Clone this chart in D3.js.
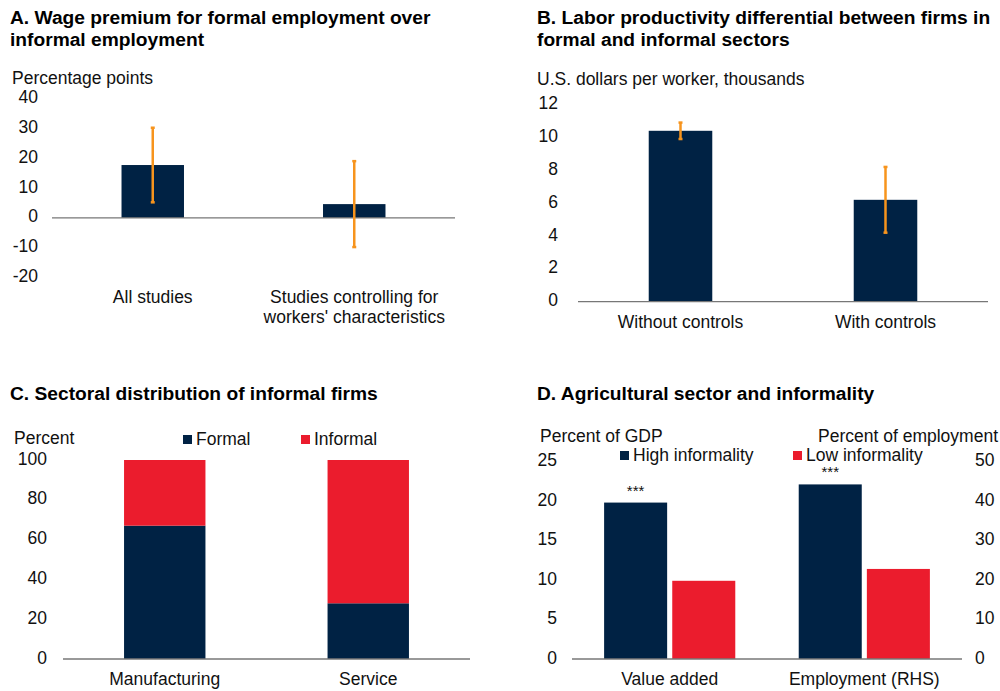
<!DOCTYPE html>
<html>
<head>
<meta charset="utf-8">
<script src="https://cdn.jsdelivr.net/npm/d3@7"></script>
<style>
  body { margin: 0; background: #fff; }
  svg { display: block; font-family: "Liberation Sans", Arial, sans-serif; }
</style>
</head>
<body>
<script>
const wdth = 1000;
const hght = 691;
const navy = "#002244";
const red = "#EB1C2D";
const orange = "#F7941D";
const fs = 17.5;

// panel A
const wageCats = ["All studies", "Studies controlling for|workers' characteristics"];
const wageVals = [17.7, 4.6];
const wageLow = [5.2, -9.8];
const wageHigh = [30.2, 19];
const wageTicks = [40, 30, 20, 10, 0, -10, -20];

// panel B
const prodCats = ["Without controls", "With controls"];
const prodVals = [10.4, 6.2];
const prodLow = [9.9, 4.2];
const prodHigh = [10.9, 8.2];
const prodTicks = [0, 2, 4, 6, 8, 10, 12];

// panel C
const sectorCats = ["Manufacturing", "Service"];
const sectorFormal = [67, 28];
const sectorInformal = [33, 72];
const sectorTicks = [0, 20, 40, 60, 80, 100];

// panel D
const agriCats = ["Value added", "Employment (RHS)"];
const agriHigh = [19.8, 44.2];
const agriLow = [9.9, 22.8];
const agriStars = ["***", "***"];
const agriLeftTicks = [0, 5, 10, 15, 20, 25];
const agriRightTicks = [0, 10, 20, 30, 40, 50];

const svg = d3.select("body").append("svg")
  .attr("width", wdth)
  .attr("height", hght);

function title(lines, x, y) {
  const t = svg.append("text")
    .attr("x", x).attr("y", y)
    .attr("font-size", 19.2).attr("font-weight", "bold").attr("fill", "#000");
  lines.forEach((l, i) => {
    t.append("tspan").attr("x", x).attr("dy", i === 0 ? 0 : 22).text(l);
  });
}

function label(txt, x, y, anchor) {
  return svg.append("text")
    .attr("x", x).attr("y", y)
    .attr("font-size", fs)
    .attr("text-anchor", anchor || "start")
    .attr("dominant-baseline", "middle")
    .attr("fill", "#111")
    .text(txt);
}

function yLabels(scale, ticks, x, anchor) {
  svg.append("g").selectAll("text")
    .data(ticks).enter().append("text")
    .attr("x", x)
    .attr("y", d => scale(d))
    .attr("font-size", fs)
    .attr("text-anchor", anchor || "end")
    .attr("dominant-baseline", "middle")
    .attr("fill", "#111")
    .text(d => d);
}

function baseLine(x1, x2, y) {
  svg.append("line")
    .attr("x1", x1).attr("x2", x2)
    .attr("y1", y).attr("y2", y)
    .attr("stroke", "#777").attr("stroke-width", 1.3);
}

function errBars(xs, lows, highs, y) {
  const g = svg.append("g");
  xs.forEach((x, i) => {
    g.append("line").attr("x1", x).attr("x2", x)
      .attr("y1", y(lows[i])).attr("y2", y(highs[i]))
      .attr("stroke", orange).attr("stroke-width", 2.5);
    [lows[i], highs[i]].forEach(v => {
      g.append("line").attr("x1", x - 2).attr("x2", x + 2)
        .attr("y1", y(v)).attr("y2", y(v))
        .attr("stroke", orange).attr("stroke-width", 2.5);
    });
  });
}

function catLabels(scale, cats, y) {
  cats.forEach(c => {
    const parts = c.split("|");
    parts.forEach((p, j) => {
      label(p, scale(c) + scale.bandwidth() / 2, y + j * 20, "middle");
    });
  });
}

// ---------- A ----------
title(["A. Wage premium for formal employment over", "informal employment"], 10, 24);
label("Percentage points", 12, 79);
const xA = d3.scaleBand().domain(wageCats).range([52, 455]).paddingInner(0.69).paddingOuter(0.345);
const yA = d3.scaleLinear().domain([-20, 40]).range([277.5, 98.5]);
yLabels(yA, wageTicks, 38);
svg.append("g").selectAll("rect").data(wageCats).enter().append("rect")
  .attr("x", d => xA(d))
  .attr("width", xA.bandwidth())
  .attr("y", (d, i) => Math.min(yA(wageVals[i]), yA(0)))
  .attr("height", (d, i) => Math.abs(yA(0) - yA(wageVals[i])))
  .attr("fill", navy);
baseLine(52, 455, yA(0));
errBars(wageCats.map(c => xA(c) + xA.bandwidth() / 2), wageLow, wageHigh, yA);
catLabels(xA, wageCats, 298);

// ---------- B ----------
title(["B. Labor productivity differential between firms in", "formal and informal sectors"], 537, 24);
label("U.S. dollars per worker, thousands", 537, 80);
const xB = d3.scaleBand().domain(prodCats).range([578, 988]).paddingInner(0.69).paddingOuter(0.345);
const yB = d3.scaleLinear().domain([0, 12]).range([301.7, 104.5]);
yLabels(yB, prodTicks, 558);
svg.append("g").selectAll("rect").data(prodCats).enter().append("rect")
  .attr("x", d => xB(d))
  .attr("width", xB.bandwidth())
  .attr("y", (d, i) => yB(prodVals[i]))
  .attr("height", (d, i) => yB(0) - yB(prodVals[i]))
  .attr("fill", navy);
baseLine(578, 988, yB(0));
errBars(prodCats.map(c => xB(c) + xB.bandwidth() / 2), prodLow, prodHigh, yB);
catLabels(xB, prodCats, 323);

// ---------- C ----------
title(["C. Sectoral distribution of informal firms"], 10, 400);
label("Percent", 14, 439);
const xC = d3.scaleBand().domain(sectorCats).range([63, 470]).paddingInner(0.6).paddingOuter(0.3);
const yC = d3.scaleLinear().domain([0, 100]).range([659, 460]);
yLabels(yC, sectorTicks, 47);
const stackRows = sectorCats.map((c, i) => ({ cat: c, Formal: sectorFormal[i], Informal: sectorInformal[i] }));
const stacked = d3.stack().keys(["Formal", "Informal"])(stackRows);
const colC = d3.scaleOrdinal().domain(["Formal", "Informal"]).range([navy, red]);
svg.append("g").selectAll("g").data(stacked).enter().append("g")
  .attr("fill", d => colC(d.key))
  .selectAll("rect").data(d => d).enter().append("rect")
  .attr("x", d => xC(d.data.cat))
  .attr("width", xC.bandwidth())
  .attr("y", d => yC(d[1]))
  .attr("height", d => yC(d[0]) - yC(d[1]));
baseLine(63, 470, yC(0));
catLabels(xC, sectorCats, 680);
[["Formal", 183], ["Informal", 301]].forEach(([k, x]) => {
  svg.append("rect").attr("x", x).attr("y", 435).attr("width", 9).attr("height", 9).attr("fill", colC(k));
  label(k, x + 13, 440);
});

// ---------- D ----------
title(["D. Agricultural sector and informality"], 537, 400);
label("Percent of GDP", 540, 437);
label("Percent of employment", 998, 437, "end");
const x0D = d3.scaleBand().domain(agriCats).range([572, 962]).paddingInner(0.326).paddingOuter(0.165);
const x1D = d3.scaleBand().domain(["High", "Low"]).range([0, x0D.bandwidth()]).paddingInner(0.075);
const yDL = d3.scaleLinear().domain([0, 25]).range([659, 461.5]);
const yDR = d3.scaleLinear().domain([0, 50]).range([659, 461.5]);
yLabels(yDL, agriLeftTicks, 557);
yLabels(yDR, agriRightTicks, 975, "start");
const scaleFor = i => (i === 0 ? yDL : yDR);
agriCats.forEach((c, i) => {
  const y = scaleFor(i);
  svg.append("rect")
    .attr("x", x0D(c) + x1D("High")).attr("width", x1D.bandwidth())
    .attr("y", y(agriHigh[i])).attr("height", y(0) - y(agriHigh[i]))
    .attr("fill", navy);
  svg.append("rect")
    .attr("x", x0D(c) + x1D("Low")).attr("width", x1D.bandwidth())
    .attr("y", y(agriLow[i])).attr("height", y(0) - y(agriLow[i]))
    .attr("fill", red);
  svg.append("text")
    .attr("x", x0D(c) + x1D("High") + x1D.bandwidth() / 2)
    .attr("y", y(agriHigh[i]) - 7)
    .attr("text-anchor", "middle")
    .attr("font-size", 15)
    .attr("fill", "#111")
    .text(agriStars[i]);
});
baseLine(572, 962, yDL(0));
catLabels(x0D, agriCats, 680);
[["High informality", 620, navy], ["Low informality", 793, red]].forEach(([k, x, c]) => {
  svg.append("rect").attr("x", x).attr("y", 451).attr("width", 9).attr("height", 9).attr("fill", c);
  label(k, x + 13, 456);
});
</script>
</body>
</html>
